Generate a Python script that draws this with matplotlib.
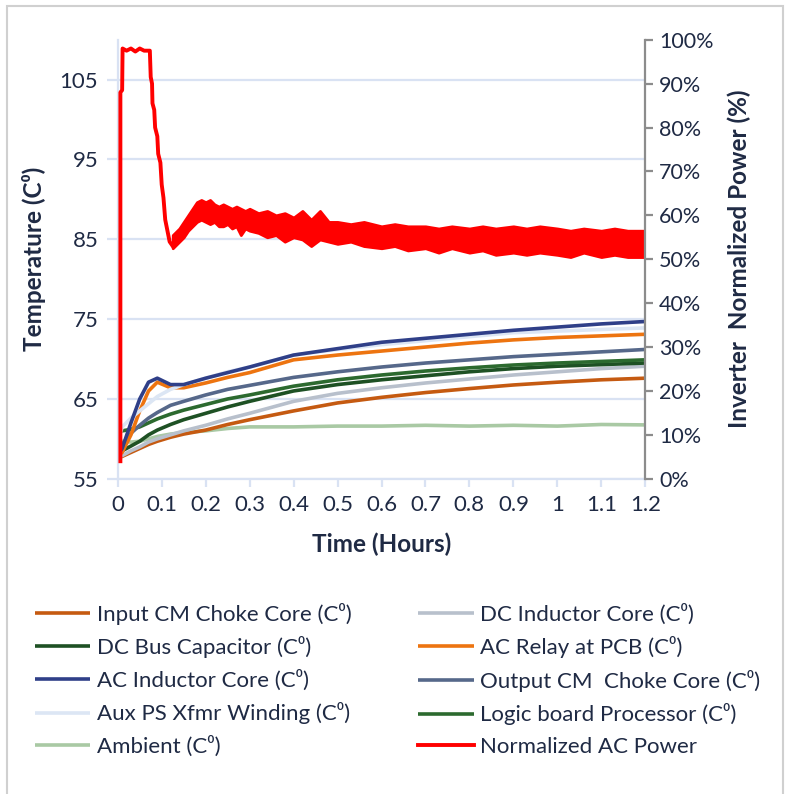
import matplotlib.pyplot as plt
from matplotlib.patches import Rectangle
from matplotlib.ticker import FuncFormatter

plt.rcParams['font.family'] = ['Lato', 'DejaVu Sans']

# sample times (hours) for the temperature traces
time_h = [0, 0.01, 0.03, 0.05, 0.07, 0.09, 0.12, 0.15, 0.2, 0.25,
          0.3, 0.4, 0.5, 0.6, 0.7, 0.8, 0.9, 1.0, 1.1, 1.2]

input_cm = [57.7, 57.8, 58.3, 58.8, 59.3, 59.7, 60.2, 60.6, 61.1, 61.8,
            62.4, 63.5, 64.5, 65.2, 65.8, 66.3, 66.75, 67.1, 67.4, 67.6]
dc_inductor = [57.7, 57.9, 58.5, 59.0, 59.6, 60.0, 60.5, 61.0, 61.7, 62.5,
               63.2, 64.7, 65.7, 66.4, 67.0, 67.5, 68.0, 68.4, 68.8, 69.1]
dc_bus = [58.2, 58.5, 59.1, 59.7, 60.5, 61.1, 61.8, 62.4, 63.2, 64.0,
          64.7, 66.0, 66.8, 67.4, 67.9, 68.4, 68.8, 69.1, 69.3, 69.5]
ac_relay = [57.9, 58.3, 60.5, 63.5, 66.0, 67.1, 66.4, 66.4, 67.0, 67.7,
            68.3, 69.9, 70.5, 71.0, 71.5, 72.0, 72.4, 72.7, 72.9, 73.1]
ac_inductor = [58.0, 58.8, 62.0, 65.0, 67.1, 67.6, 66.8, 66.8, 67.6, 68.3,
               69.0, 70.5, 71.3, 72.1, 72.6, 73.1, 73.6, 74.0, 74.4, 74.7]
output_cm = [58.3, 59.3, 60.7, 61.7, 62.6, 63.3, 64.2, 64.7, 65.5, 66.2,
             66.7, 67.7, 68.4, 69.0, 69.5, 69.9, 70.3, 70.6, 70.9, 71.2]
aux_ps = [59.5, 61.5, 62.6, 63.5, 64.4, 65.3, 66.2, 66.8, 67.6, 68.4,
          69.0, 70.5, 71.2, 71.8, 72.3, 72.8, 73.3, 73.5, 73.7, 73.9]
logic_board = [60.9, 61.0, 61.2, 61.5, 62.0, 62.5, 63.1, 63.6, 64.3, 65.0,
               65.5, 66.6, 67.4, 68.0, 68.5, 68.9, 69.25, 69.5, 69.7, 69.9]
ambient = [59.7, 59.7, 59.6, 59.7, 60.0, 60.3, 60.6, 60.8, 61.0, 61.3,
           61.5, 61.5, 61.6, 61.6, 61.7, 61.6, 61.7, 61.6, 61.8, 61.75]

# normalized AC power: start-up ramp as a single trace
power_t = [0.006, 0.006, 0.010, 0.011, 0.02, 0.03, 0.04, 0.05, 0.06, 0.073,
           0.075, 0.078, 0.079, 0.083, 0.085, 0.09, 0.092, 0.097, 0.10,
           0.104, 0.108, 0.112, 0.118, 0.125]
power_pct = [4, 88, 88.5, 98, 97.5, 98, 97.3, 98, 97.5, 97.5,
             91.5, 90, 85.5, 84, 80, 78, 74, 72, 67, 64, 59, 57, 54, 53]
# after the dip the power signal is a noisy band (upper / lower edge)
band_t = [0.125, 0.13, 0.14, 0.15, 0.16, 0.17, 0.18, 0.19, 0.20, 0.21,
          0.22, 0.23, 0.24, 0.25, 0.26, 0.27, 0.28, 0.29, 0.30, 0.32,
          0.34, 0.36, 0.38, 0.40, 0.42, 0.44, 0.46, 0.48, 0.50, 0.53,
          0.56, 0.60, 0.63, 0.66, 0.70, 0.73, 0.76, 0.80, 0.83, 0.86,
          0.90, 0.93, 0.96, 1.00, 1.03, 1.06, 1.10, 1.13, 1.16, 1.20]
band_hi = [55.5, 56, 57, 58.5, 60, 61.5, 63, 63.5, 63, 63.5,
           62.5, 62, 62.5, 62, 61.5, 62, 61.5, 61, 61.5, 60.5,
           61, 60, 60.5, 59.5, 61, 59, 61, 58.5, 58.5, 58,
           58.5, 57.5, 58, 57.5, 57.5, 57, 57.5, 57, 57.5, 57,
           57.5, 57, 57.5, 57, 56.5, 57, 56.5, 57, 56.5, 56.5]
band_lo = [52.5, 53, 54, 55, 56.5, 57.5, 58.5, 59, 58.5, 58,
           58.5, 57.5, 57.5, 58, 57, 57.5, 55.5, 57, 56.5, 56,
           55, 55.5, 54, 55, 54.5, 53, 54.5, 54, 53.5, 54,
           53, 52.5, 53, 52, 52.5, 51.5, 52.5, 51.5, 52, 51,
           51.5, 51, 51.5, 51, 50.5, 51.5, 50.5, 51, 50.5, 50.5]

names = ['Input CM Choke Core (C\u2070)', 'DC Inductor Core (C\u2070)',
         'DC Bus Capacitor (C\u2070)', 'AC Relay at PCB (C\u2070)',
         'AC Inductor Core (C\u2070)', 'Output CM  Choke Core (C\u2070)',
         'Aux PS Xfmr Winding (C\u2070)', 'Logic board Processor (C\u2070)',
         'Ambient (C\u2070)']
series = [input_cm, dc_inductor, dc_bus, ac_relay, ac_inductor,
          output_cm, aux_ps, logic_board, ambient]
colors = ['#c55a11', '#b8c0cc', '#1e5124', '#ed7410', '#2f3f88',
          '#56688a', '#dce6f4', '#2c6a2f', '#a9c9a4']
draw_order = [8, 0, 1, 2, 7, 5, 3, 6, 4]

text_col = '#1f2a44'
grid_col = '#d9e2f3'

fig = plt.figure(figsize=(7.85, 7.94), dpi=100)
ax = fig.add_axes([0.150, 0.397, 0.672, 0.553])

lines = {}
for i in draw_order:
    ln, = ax.plot(time_h, series[i], color=colors[i], lw=2.6,
                  solid_capstyle='butt', label=names[i])
    lines[i] = ln

ax.set_xlim(0, 1.2)
ax.set_ylim(55, 110)
ax.set_yticks([55, 65, 75, 85, 95, 105])
ax.set_xticks([i / 10 for i in range(13)])
ax.set_xticklabels(['0', '0.1', '0.2', '0.3', '0.4', '0.5', '0.6', '0.7',
                    '0.8', '0.9', '1', '1.1', '1.2'])
ax.grid(axis='y', color=grid_col, lw=1.6)
ax.set_axisbelow(True)
for s in ['top', 'right']:
    ax.spines[s].set_visible(False)
for s in ['left', 'bottom']:
    ax.spines[s].set_color(grid_col)
    ax.spines[s].set_linewidth(1.6)
ax.tick_params(axis='y', length=8, width=1.6, color=grid_col,
               labelsize=16, labelcolor=text_col, pad=6)
ax.tick_params(axis='x', length=6, width=1.6, color=grid_col,
               labelsize=16, labelcolor=text_col, pad=6)
ax.set_xlabel('Time (Hours)', fontsize=17.5, fontweight='bold',
              color=text_col, labelpad=12)
ax.set_ylabel('Temperature (C\u2070)', fontsize=17.5, fontweight='bold',
              color=text_col, labelpad=10)

ax2 = ax.twinx()
ax2.fill_between(band_t, band_lo, band_hi, color='#ff0000',
                 lw=2.0, edgecolor='#ff0000')
power_ln, = ax2.plot(power_t, power_pct, color='#ff0000', lw=2.8,
                     label='Normalized AC Power')
ax2.set_ylim(0, 100)
ax2.set_yticks(range(0, 101, 10))
ax2.yaxis.set_major_formatter(FuncFormatter(lambda v, p: f'{v:.0f}%'))
for s in ['top', 'left', 'bottom']:
    ax2.spines[s].set_visible(False)
ax2.spines['right'].set_color('#8c8c8c')
ax2.spines['right'].set_linewidth(1.6)
ax2.tick_params(axis='y', length=6, width=1.6, color='#8c8c8c',
                labelsize=15.5, labelcolor=text_col, pad=4)
ax2.set_ylabel('Inverter  Normalized Power (%)', fontsize=17.5,
               fontweight='bold', color=text_col, labelpad=10)

# legend filled column by column: left column first, then right column
col_left = [lines[0], lines[2], lines[4], lines[6], lines[8]]
col_right = [lines[1], lines[3], lines[5], lines[7], power_ln]
handles = col_left + col_right
fig.legend(handles, [h.get_label() for h in handles], ncol=2,
           loc='upper left', bbox_to_anchor=(0.044, 0.241),
           frameon=False, fontsize=16, labelcolor=text_col,
           handlelength=2.5, handletextpad=0.3, columnspacing=3.0,
           labelspacing=0.52, borderpad=0, borderaxespad=0)

fig.patches.append(Rectangle((7 / 785, -0.02), 776 / 785, 1.012,
                             transform=fig.transFigure, fill=False,
                             edgecolor='#d0d0d0', lw=1.5))

fig.savefig('out.png', dpi=100, facecolor='white')
